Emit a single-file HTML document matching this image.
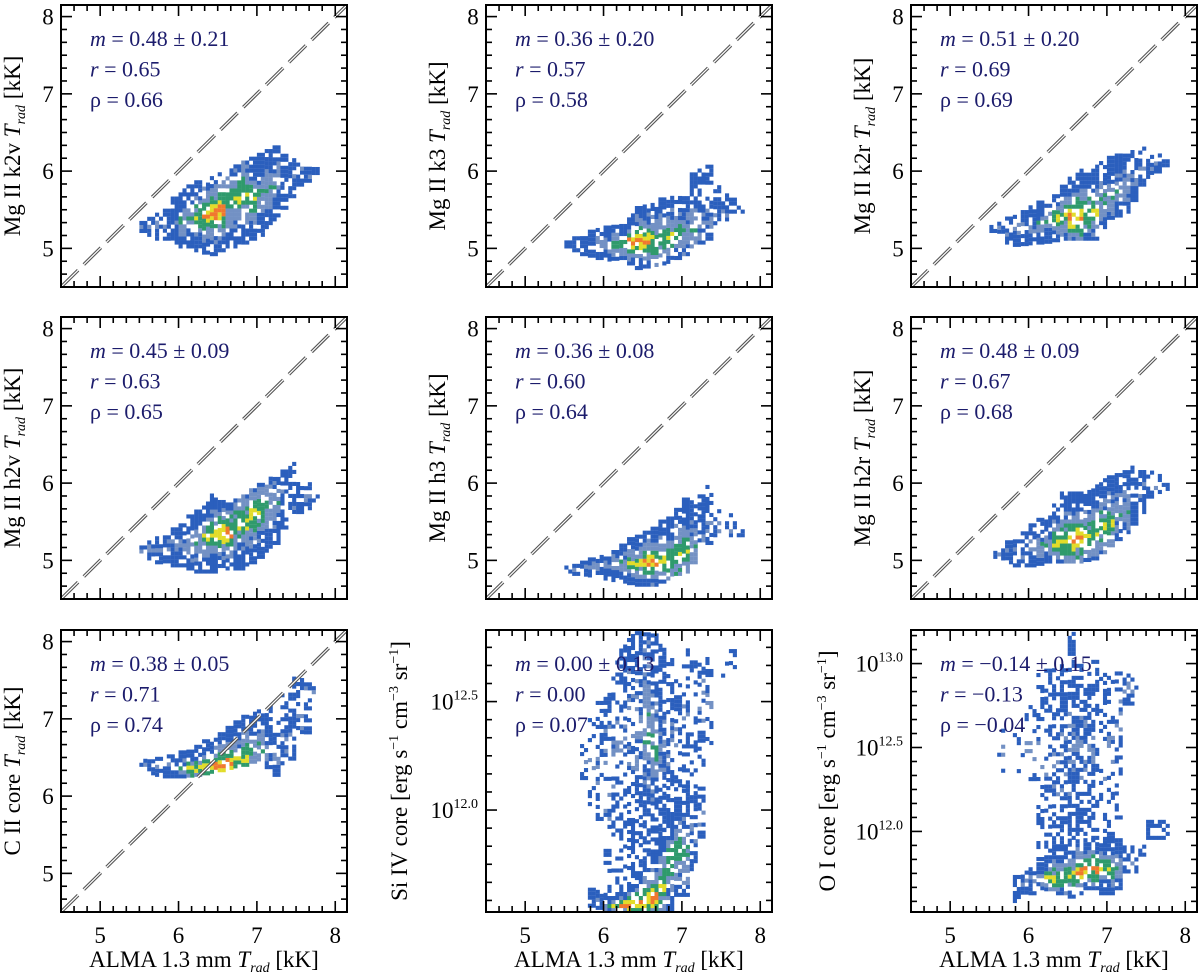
<!DOCTYPE html>
<html><head><meta charset="utf-8"><style>
html,body{margin:0;padding:0;background:#fff;}
svg{display:block;}
text{font-family:"Liberation Serif",serif;}
</style></head><body>
<svg id="fig" width="1200" height="974" viewBox="0 0 1200 974" xmlns="http://www.w3.org/2000/svg" font-family="Liberation Serif, serif"></svg>
<script>
// ---- chart data: column segments [x, yLow, yHigh, yPeak, peakLevel, fill] ----
const k2vSegs=[[5.5,5.2,5.35,5.28,1,.8],[5.6,5.15,5.4,5.28,1,.8],[5.7,5.1,5.45,5.3,1,.8],[5.8,5.1,5.5,5.3,1,.8],[5.9,5.05,5.65,5.35,1,.8],[6.0,5.0,5.75,5.35,2,.8],[6.1,5.0,5.8,5.4,2,.8],[6.2,4.95,5.85,5.4,3,.8],[6.3,4.92,5.85,5.42,4,.8],[6.4,4.9,5.9,5.45,4,.8],[6.5,4.95,5.95,5.5,4,.8],[6.6,5.0,6.0,5.6,3,.8],[6.7,5.0,6.05,5.65,3,.8],[6.8,5.05,6.1,5.7,3,.8],[6.9,5.1,6.15,5.65,3,.8],[7.0,5.15,6.2,5.7,2,.8],[7.1,5.25,6.25,5.8,2,.8],[7.2,5.35,6.3,5.85,2,.75],[7.3,5.5,6.2,5.9,1,.7],[7.4,5.65,6.15,5.95,1,.7],[7.5,5.8,6.1,6.0,1,.7],[7.6,5.85,6.05,5.95,1,.7],[7.7,5.95,6.05,6.0,1,.8]];
const k3Segs=[[5.5,5.0,5.1,5.05,1,.8],[5.6,4.95,5.12,5.05,1,.8],[5.7,4.9,5.15,5.05,1,.8],[5.8,4.88,5.2,5.05,1,.8],[5.9,4.85,5.25,5.05,2,.8],[6.0,4.83,5.28,5.05,2,.8],[6.1,4.84,5.26,5.05,3,.8],[6.2,4.85,5.3,5.05,3,.8],[6.3,4.78,5.45,5.08,4,.8],[6.4,4.72,5.54,5.1,4,.8],[6.5,4.74,5.56,5.1,4,.8],[6.6,4.76,5.58,5.1,3,.8],[6.7,4.78,5.62,5.12,3,.8],[6.8,4.8,5.67,5.15,3,.8],[6.9,4.85,5.67,5.2,3,.8],[7.0,4.9,5.67,5.2,2,.8],[7.1,5.0,5.97,5.25,2,.75],[7.2,5.05,6.0,5.3,1,.7],[7.3,5.1,6.05,5.4,1,.65],[7.4,5.3,5.8,5.5,1,.5],[7.5,5.35,5.7,5.5,1,.5],[7.6,5.45,5.62,5.5,1,.6],[7.7,5.45,5.55,5.5,1,.7]];
const k2rSegs=[[5.5,5.2,5.3,5.25,1,.8],[5.6,5.19,5.32,5.25,1,.8],[5.7,5.05,5.38,5.25,1,.75],[5.8,5.02,5.4,5.25,1,.75],[5.9,5.03,5.48,5.28,1,.75],[6.0,5.04,5.54,5.3,1,.75],[6.1,5.05,5.58,5.32,2,.8],[6.2,5.06,5.62,5.35,2,.8],[6.3,5.08,5.7,5.38,3,.8],[6.4,5.1,5.8,5.4,3,.8],[6.5,5.1,5.9,5.4,4,.8],[6.6,5.1,6.0,5.4,4,.8],[6.7,5.1,6.02,5.45,3,.8],[6.8,5.1,6.05,5.5,3,.8],[6.9,5.25,6.12,5.6,2,.8],[7.0,5.37,6.18,5.65,2,.8],[7.1,5.4,6.2,5.75,2,.8],[7.2,5.45,6.22,5.8,2,.75],[7.3,5.6,6.25,5.9,1,.7],[7.4,5.8,6.3,6.0,1,.65],[7.5,5.9,6.2,6.05,1,.6],[7.6,5.97,6.18,6.08,1,.6],[7.7,6.05,6.15,6.1,1,.7]];
const h2vSegs=[[5.5,5.09,5.17,5.12,1,.8],[5.6,5.0,5.26,5.15,1,.75],[5.7,4.95,5.28,5.15,1,.75],[5.8,4.91,5.3,5.15,1,.75],[5.9,4.91,5.4,5.18,1,.75],[6.0,4.91,5.47,5.2,1,.75],[6.1,4.87,5.55,5.2,2,.8],[6.2,4.83,5.65,5.2,2,.8],[6.3,4.83,5.75,5.3,3,.8],[6.4,4.83,5.82,5.35,3,.8],[6.5,4.85,5.78,5.35,4,.8],[6.6,4.87,5.73,5.35,4,.8],[6.7,4.87,5.78,5.45,3,.8],[6.8,4.87,5.82,5.5,3,.8],[6.9,4.95,5.9,5.6,3,.8],[7.0,5.02,5.99,5.65,3,.8],[7.1,5.1,6.04,5.7,2,.8],[7.2,5.2,6.08,5.75,2,.75],[7.3,5.4,6.15,5.8,1,.7],[7.4,5.55,6.25,5.85,1,.65],[7.5,5.6,6.0,5.8,1,.65],[7.6,5.65,5.99,5.8,1,.65],[7.7,5.75,5.86,5.8,1,.75]];
const h3Segs=[[5.5,4.83,4.91,4.87,1,.7],[5.6,4.8,4.93,4.87,1,.75],[5.7,4.79,4.98,4.9,1,.75],[5.8,4.78,5.02,4.92,1,.75],[5.9,4.76,5.03,4.93,1,.75],[6.0,4.74,5.04,4.95,1,.8],[6.1,4.72,5.1,4.96,2,.8],[6.2,4.7,5.17,4.97,2,.8],[6.3,4.68,5.25,4.97,3,.8],[6.4,4.66,5.3,4.97,3,.8],[6.5,4.66,5.35,4.98,4,.8],[6.6,4.66,5.39,4.98,4,.8],[6.7,4.7,5.48,5.0,3,.8],[6.8,4.74,5.56,5.0,3,.8],[6.9,4.8,5.68,5.05,3,.8],[7.0,4.83,5.78,5.1,3,.8],[7.1,4.95,5.8,5.15,2,.75],[7.2,5.13,5.82,5.3,1,.7],[7.3,5.2,5.95,5.4,1,.6],[7.4,5.3,5.69,5.45,1,.5],[7.5,5.3,5.6,5.4,1,.5],[7.6,5.3,5.56,5.4,1,.5],[7.7,5.3,5.39,5.35,1,.7]];
const h2rSegs=[[5.5,5.02,5.08,5.05,1,.7],[5.6,5.0,5.18,5.08,1,.75],[5.7,4.95,5.22,5.1,1,.75],[5.8,4.91,5.26,5.1,1,.75],[5.9,4.91,5.35,5.12,1,.75],[6.0,4.91,5.43,5.15,1,.75],[6.1,4.93,5.5,5.18,2,.8],[6.2,4.96,5.56,5.2,2,.8],[6.3,4.96,5.7,5.22,3,.8],[6.4,4.96,5.86,5.25,3,.8],[6.5,4.96,5.86,5.28,4,.8],[6.6,4.96,5.86,5.3,4,.8],[6.7,4.98,5.9,5.32,3,.8],[6.8,5.0,5.95,5.35,3,.8],[6.9,5.08,6.02,5.45,3,.8],[7.0,5.17,6.08,5.5,3,.8],[7.1,5.25,6.12,5.6,2,.8],[7.2,5.34,6.16,5.65,2,.75],[7.3,5.45,6.18,5.8,1,.7],[7.4,5.6,6.2,5.9,1,.65],[7.5,5.8,6.12,5.95,1,.6],[7.6,5.86,6.08,5.95,1,.65],[7.7,5.9,6.0,5.95,1,.75]];
const c2Segs=[[5.5,6.38,6.44,6.41,1,.8],[5.6,6.27,6.46,6.38,1,.8],[5.7,6.25,6.48,6.38,1,.8],[5.8,6.23,6.5,6.38,1,.8],[5.9,6.23,6.52,6.36,2,.8],[6.0,6.23,6.55,6.35,2,.8],[6.1,6.24,6.6,6.35,3,.8],[6.2,6.25,6.64,6.35,3,.8],[6.3,6.27,6.7,6.37,4,.8],[6.4,6.29,6.77,6.38,4,.8],[6.5,6.31,6.84,6.39,4,.8],[6.6,6.34,6.9,6.4,4,.8],[6.7,6.36,6.96,6.45,3,.8],[6.8,6.38,7.03,6.5,3,.8],[6.9,6.42,7.07,6.55,2,.8],[7.0,6.45,7.11,6.6,2,.8],[7.1,6.35,7.15,6.5,1,.75],[7.2,6.25,6.94,6.45,1,.7],[7.3,6.4,7.3,6.7,1,.6],[7.4,6.46,7.5,6.8,1,.5],[7.5,6.7,7.5,7.0,1,.45],[7.6,6.8,7.5,7.3,1,.5],[7.7,7.32,7.41,7.36,1,.8]];
const si4Segs=[[5.7,12.12,12.3,12.2,1,.3],[5.8,11.55,11.63,11.58,1,.7],[5.8,12.0,12.45,12.2,1,.25],[5.9,11.54,11.64,11.58,1,.7],[5.9,11.95,12.5,12.2,1,.3],[6.0,11.53,11.6,11.56,2,.8],[6.0,11.6,12.6,12.2,1,.35],[6.1,11.53,11.62,11.56,3,.8],[6.1,11.62,12.7,12.3,1,.4],[6.2,11.53,11.62,11.56,4,.8],[6.2,11.62,12.75,12.3,1,.45],[6.3,11.53,11.65,11.56,4,.8],[6.3,11.65,12.8,12.4,1,.5],[6.4,11.53,11.7,11.57,4,.8],[6.4,11.7,12.83,12.4,1,.55],[6.5,11.53,11.75,11.58,4,.8],[6.5,11.75,12.83,12.4,2,.65],[6.6,11.53,11.8,11.6,4,.8],[6.6,11.8,12.8,12.3,2,.6],[6.7,11.53,11.9,11.65,3,.8],[6.7,11.9,12.75,12.3,1,.55],[6.8,11.53,12.0,11.75,3,.75],[6.8,12.0,12.7,12.3,1,.45],[6.9,11.6,12.05,11.8,3,.75],[6.9,12.05,12.6,12.3,1,.45],[7.0,11.6,12.1,11.8,2,.7],[7.0,12.1,12.75,12.4,1,.4],[7.1,11.7,12.1,11.9,1,.55],[7.1,12.1,12.75,12.5,1,.35],[7.2,11.85,12.1,11.95,1,.45],[7.2,12.2,12.73,12.5,1,.3],[7.3,12.3,12.7,12.5,1,.25],[7.5,12.5,12.75,12.6,1,.15],[7.6,12.65,12.75,12.7,1,.3]];
const o1Segs=[[5.6,12.35,12.65,12.5,1,.2],[5.8,11.55,11.72,11.65,1,.6],[5.8,12.3,12.6,12.45,1,.2],[5.9,11.6,11.75,11.68,1,.65],[5.9,12.3,12.7,12.5,1,.2],[6.0,11.62,11.78,11.7,1,.7],[6.0,12.3,12.75,12.5,1,.25],[6.1,11.65,11.8,11.72,2,.75],[6.1,11.8,12.95,12.4,1,.35],[6.2,11.62,11.85,11.72,3,.8],[6.2,11.85,12.95,12.4,1,.4],[6.3,11.62,11.9,11.72,3,.8],[6.3,11.9,12.95,12.4,1,.45],[6.4,11.62,11.9,11.73,3,.8],[6.4,11.9,12.98,12.4,1,.55],[6.5,11.6,11.95,11.74,3,.8],[6.5,11.95,13.2,12.5,1,.65],[6.6,11.62,11.95,11.75,4,.8],[6.6,11.95,13.0,12.5,1,.65],[6.7,11.65,11.95,11.78,4,.8],[6.7,11.95,12.95,12.5,1,.5],[6.8,11.65,11.95,11.78,4,.8],[6.8,11.95,13.0,12.5,1,.45],[6.9,11.62,11.92,11.78,3,.8],[6.9,11.92,12.95,12.5,1,.4],[7.0,11.62,11.95,11.78,3,.75],[7.0,11.95,12.95,12.5,1,.35],[7.1,11.65,11.95,11.78,2,.7],[7.1,12.0,12.95,12.6,1,.3],[7.2,11.75,11.9,11.82,1,.6],[7.2,12.75,12.95,12.85,1,.4],[7.3,11.75,11.9,11.82,1,.5],[7.3,12.75,12.9,12.82,1,.35],[7.4,11.85,11.95,11.9,1,.45],[7.5,11.95,12.05,12.0,1,.5],[7.6,11.95,12.05,12.0,1,.5],[7.7,11.95,12.05,12.0,1,.5]];
// ---- printed statistics [m, r, rho] ----
const k2vStats=["0.48 ± 0.21","0.65","0.66"];
const k3Stats=["0.36 ± 0.20","0.57","0.58"];
const k2rStats=["0.51 ± 0.20","0.69","0.69"];
const h2vStats=["0.45 ± 0.09","0.63","0.65"];
const h3Stats=["0.36 ± 0.08","0.60","0.64"];
const h2rStats=["0.48 ± 0.09","0.67","0.68"];
const c2Stats=["0.38 ± 0.05","0.71","0.74"];
const si4Stats=["0.00 ± 0.13","0.00","0.07"];
const o1Stats=["−0.14 ± 0.15","−0.13","−0.04"];
// ---- tick labels ----
const linTicks=[5,6,7,8];
const xTicks=[5,6,7,8];
const si4Ticks=["12.0","12.5"];
const o1Ticks=["12.0","12.5","13.0"];

const NS="http://www.w3.org/2000/svg";
const svg=document.getElementById('fig');
const FONT='"Liberation Serif", serif';
function mk(tag,attrs,parent){const e=document.createElementNS(NS,tag);for(const k in attrs)e.setAttribute(k,attrs[k]);if(tag==='text')e.setAttribute('font-family',FONT);(parent||svg).appendChild(e);return e;}
function hash(a,b,c){let h=(a*374761393+b*668265263+c*2147483647)|0;h=(h^(h>>>13))*1274126177|0;h=h^(h>>>16);return ((h>>>0)%10000)/10000;}
function colorFor(v){if(v<0.9)return '#2b5fbd';if(v<1.9)return '#7391c4';if(v<2.8)return '#2f9a6c';if(v<3.5)return '#e2dc2a';return '#f0782e';}

const panels=[
 {id:'k2v',col:0,row:0,segs:k2vSegs,stats:k2vStats,label:'Mg II k2v ',kind:'lin'},
 {id:'k3',col:1,row:0,segs:k3Segs,stats:k3Stats,label:'Mg II k3 ',kind:'lin'},
 {id:'k2r',col:2,row:0,segs:k2rSegs,stats:k2rStats,label:'Mg II k2r ',kind:'lin'},
 {id:'h2v',col:0,row:1,segs:h2vSegs,stats:h2vStats,label:'Mg II h2v ',kind:'lin'},
 {id:'h3',col:1,row:1,segs:h3Segs,stats:h3Stats,label:'Mg II h3 ',kind:'lin'},
 {id:'h2r',col:2,row:1,segs:h2rSegs,stats:h2rStats,label:'Mg II h2r ',kind:'lin'},
 {id:'c2',col:0,row:2,segs:c2Segs,stats:c2Stats,label:'C II core ',kind:'lin'},
 {id:'si4',col:1,row:2,segs:si4Segs,stats:si4Stats,label:'Si IV core',kind:'log',ymin:11.53,ymax:12.83,ticks:si4Ticks},
 {id:'o1',col:2,row:2,segs:o1Segs,stats:o1Stats,label:'O I core',kind:'log',ymin:11.52,ymax:13.2,ticks:o1Ticks}
];
const LEFTS=[61,486,911],TOPS=[5,317,630],W=286,H=282,XMIN=4.5,XMAX=8.15;

panels.forEach((P,pi)=>{
 const L=LEFTS[P.col],T=TOPS[P.row];
 const ymin=P.kind==='log'?P.ymin:4.5, ymax=P.kind==='log'?P.ymax:8.15;
 const sx=v=>L+(v-XMIN)/(XMAX-XMIN)*W;
 const sy=v=>T+H-(v-ymin)/(ymax-ymin)*H;
 const g=mk('g',{});
 
 
 const cp=mk('clipPath',{id:'clip'+pi},g);
 mk('rect',{x:L,y:T,width:W,height:H},cp);
 const cells=mk('g',{'clip-path':'url(#clip'+pi+')'},g);
 
 
 const ystep=4*(ymax-ymin)/H;
 P.segs.forEach((s,si)=>{
  const [x,lo,hi,pk,lvl,dens]=s;
  const half=Math.max(pk-lo,hi-pk,1e-3);
  for(let sub=0;sub<2;sub++){
   const x0=x+sub*0.05;
   let j=0;
   for(let y=lo;y<hi;y+=ystep,j++){
    const h1=hash(pi*97+si,sub,j), h2=hash(j+5,si*3+sub,pi+11);
    if(h1>dens)continue;
    const t=Math.max(0,1-Math.abs(y+ystep/2-pk)/half);
    const v=lvl*Math.pow(t,1.6)+(h2-0.5)*1.0;
    const r=mk('rect',{x:sx(x0).toFixed(2),y:sy(y+ystep).toFixed(2),width:(0.05/(XMAX-XMIN)*W+0.2).toFixed(2),height:4.1,fill:colorFor(v)},cells);
    
    
   }
  }
 });
 if(P.kind==='lin'){
  const d=mk('g',{'clip-path':'url(#clip'+pi+')'},g);
  
  
  mk('line',{x1:sx(4.5),y1:sy(4.5),x2:sx(8.15),y2:sy(8.15),stroke:'#555',"stroke-width":3.4,"stroke-dasharray":"24 8"},d);
  mk('line',{x1:sx(4.5),y1:sy(4.5),x2:sx(8.15),y2:sy(8.15),stroke:'#fff',"stroke-width":1.2,"stroke-dasharray":"24 8"},d);
 }
 const fr=mk('rect',{x:L,y:T,width:W,height:H,fill:'none',stroke:'#000','stroke-width':2},g);
 
 
 const tk=mk('g',{stroke:'#000','stroke-width':1.6},g);
 
 
 for(let i=0;i<=21;i++){const v=4.5+i/6; if(v>XMAX)break; const maj=Math.abs(v-Math.round(v))<1e-6; const len=maj?11:6; const X=sx(v);
  mk('line',{x1:X,y1:T+H,x2:X,y2:T+H-len},tk); mk('line',{x1:X,y1:T,x2:X,y2:T+len},tk);}
 if(P.kind==='lin'){
  for(let i=0;i<=22;i++){const v=4.5+i/6; if(v>ymax)break; const maj=Math.abs(v-Math.round(v))<1e-6; const len=maj?11:6; const Y=sy(v);
   mk('line',{x1:L,y1:Y,x2:L+len,y2:Y},tk); mk('line',{x1:L+W,y1:Y,x2:L+W-len,y2:Y},tk);}
  linTicks.forEach(v=>{const t=mk('text',{x:L-13,y:sy(v)+8,'font-size':23,'text-anchor':'middle',fill:'#000'},g);t.textContent=v;
   });
 } else {
  for(let i=0;i<=40;i++){const v=11.5+i*0.5/6; if(v>ymax)break; if(v<ymin)continue; const maj=Math.abs(v*2-Math.round(v*2))<1e-6; const len=maj?11:6; const Y=sy(v);
   mk('line',{x1:L,y1:Y,x2:L+len,y2:Y},tk); mk('line',{x1:L+W,y1:Y,x2:L+W-len,y2:Y},tk);}
  P.ticks.forEach(s=>{const t=mk('text',{x:L-8,y:sy(parseFloat(s))+8,'font-size':23,'text-anchor':'end',fill:'#000'},g);
   
   const a=mk('tspan',{},t);a.textContent='10';const b=mk('tspan',{'font-size':14,dy:-10},t);b.textContent=s;});
 }
 const names=[['m',true],['r',true],['ρ',false]];
 P.stats.forEach((s,k)=>{const t=mk('text',{x:L+29,y:T+41+k*30.5,'font-size':22,fill:'#1c1c6c'},g);
  
  const a=mk('tspan',{'font-style':names[k][1]?'italic':'normal'},t);a.textContent=names[k][0];
  const b=mk('tspan',{},t);b.textContent=' = '+s;});
 if(P.kind==='lin'){
  const cx=L-41, cy=T+H/2;
  const t=mk('text',{x:cx,y:cy,'font-size':23,'text-anchor':'middle',transform:'rotate(-90 '+cx+' '+cy+')',fill:'#000'},g);
  
  const a=mk('tspan',{},t);a.textContent=P.label;
  const b=mk('tspan',{'font-style':'italic'},t);b.textContent='T';
  const c=mk('tspan',{'font-style':'italic','font-size':14,dy:5},t);c.textContent='rad';
  const d=mk('tspan',{dy:-5},t);d.textContent=' [kK]';
 } else {
  const cx=L-(P.id==='si4'?79:76), cy=T+H/2;
  const t=mk('text',{x:cx,y:cy,'font-size':23,'text-anchor':'middle',transform:'rotate(-90 '+cx+' '+cy+')',fill:'#000'},g);
  
  const parts=[[P.label+' [erg s',0],['−1',1],[' cm',0],['−3',1],[' sr',0],['−1',1],[']',0]];
  let up=false;
  parts.forEach(([txt,sup])=>{const ts=mk('tspan',{},t);
   if(sup){ts.setAttribute('font-size',14);ts.setAttribute('dy',-9);up=true;} else if(up){ts.setAttribute('dy',9);up=false;}
   ts.textContent=txt;});
 }
 if(P.row===2){
  xTicks.forEach(v=>{const t=mk('text',{x:sx(v),y:T+H+31,'font-size':23,'text-anchor':'middle',fill:'#000'},g);t.textContent=v;
   });
  const t=mk('text',{x:L+W/2,y:T+H+55,'font-size':23,'text-anchor':'middle',fill:'#000'},g);
  
  const a=mk('tspan',{},t);a.textContent='ALMA 1.3 mm ';
  const b=mk('tspan',{'font-style':'italic'},t);b.textContent='T';
  const c=mk('tspan',{'font-style':'italic','font-size':14,dy:5},t);c.textContent='rad';
  const d=mk('tspan',{dy:-5},t);d.textContent=' [kK]';
 }
});
</script>
</body></html>
